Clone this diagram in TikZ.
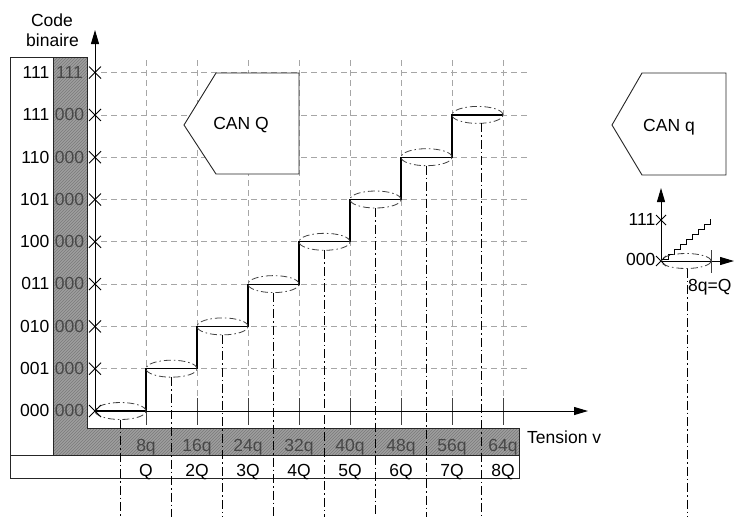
\documentclass[tikz,border=0pt]{standalone}
\usepackage{fontspec}
\setmainfont{Liberation Sans}
\usetikzlibrary{arrows.meta,patterns}
\begin{document}
\begin{tikzpicture}[x=1pt,y=-1pt,
  txt/.style={font=\fontsize{17.5}{20}\selectfont, inner sep=0pt},
  gtxt/.style={txt, text=black!72},
  gridl/.style={draw=black!35, line width=0.8pt, dash pattern=on 6pt off 4pt},
  ddl/.style={draw=black, line width=0.9pt, dash pattern=on 9pt off 3pt on 1.5pt off 3pt},
  ell/.style={draw=black!75, line width=0.8pt, dash pattern=on 7pt off 3pt on 1.5pt off 3pt},
  axisl/.style={draw=black, line width=1pt, -{Triangle[length=14pt,width=8pt]}},
  stepl/.style={draw=black, line width=1.2pt},
  boxl/.style={draw=black!85, line width=0.9pt},
  tickl/.style={draw=black!75, line width=0.9pt},
  crossl/.style={draw=black, line width=0.9pt},
  hatchfill/.style={fill=black!38},
  hatchpat/.style={pattern=north east lines, pattern color=black!52}
]
\useasboundingbox (0,0) rectangle (734,517);

% white boxes
\draw[boxl, fill=white] (10,57) rectangle (53,455);
\draw[boxl, fill=white] (10,455) rectangle (519,478);
% gray hatched L
\fill[hatchfill] (53,57) -- (87,57) -- (87,428) -- (519,428) -- (519,455) -- (53,455) -- cycle;
\fill[hatchpat] (53,57) -- (87,57) -- (87,428) -- (519,428) -- (519,455) -- (53,455) -- cycle;
\draw[boxl] (53,57) -- (87,57) -- (87,428) -- (519,428) -- (519,455) -- (53,455) -- cycle;

% grid
\foreach \k in {1,...,8} {
  \pgfmathsetmacro\yy{411-42.3*\k}
  \draw[gridl] (101,\yy) -- (528,\yy);
}
\foreach \j in {1,...,8} {
  \pgfmathsetmacro\xx{95+51*\j}
  \draw[gridl] (\xx,60) -- (\xx,398);
  \draw[tickl] (\xx,398) -- (\xx,425);
}

% pentagon CAN Q
\draw[boxl, fill=white] (184,125) -- (216,73) -- (299,73) -- (299,174) -- (216,174) -- cycle;
\node[txt, anchor=base] (canQ) at (241,129) {CAN Q};

% axes
\draw[axisl] (95,411) -- (95,30);
\draw[axisl] (95,411) -- (588,411);

% staircase
\draw[stepl] (95,411) \foreach \k in {0,...,6} { -- ++(51,0) -- ++(0,-42.3) } -- ++(51,0);

% ellipses and dash-dot lines
\foreach \k/\xc in {0/120.5,1/171.5,2/222.5,3/273.5,4/324.5,5/375.5,6/426.5,7/481} {
  \pgfmathsetmacro\yy{411-42.3*\k}
  \pgfmathsetmacro\xe{120.5+51*\k}
  \draw[ell] (\xe,\yy) ellipse [x radius=25.5pt, y radius=8.5pt];
  \draw[ddl] (\xc,{\yy+8.5}) -- (\xc,517);
}

% crosses and labels on y axis
\foreach \k/\a/\b in {8/111/111,7/111/000,6/110/000,5/101/000,4/100/000,3/011/000,2/010/000,1/001/000,0/000/000} {
  \pgfmathsetmacro\yy{411-42.3*\k}
  \draw[crossl] (89,{\yy-6}) -- (101,{\yy+6}) (89,{\yy+6}) -- (101,{\yy-6});
  \node[txt, anchor=base east] (w\k) at (49.5,{\yy+5.8}) {\a};
  \node[gtxt, anchor=base] (g\k) at (69.5,{\yy+5.8}) {\b};
}

% bar labels
\foreach \j/\q/\Q in {1/8q/Q,2/16q/2Q,3/24q/3Q,4/32q/4Q,5/40q/5Q,6/48q/6Q,7/56q/7Q,8/64q/8Q} {
  \pgfmathsetmacro\xx{95+51*\j}
  \node[gtxt, anchor=base] (bq\j) at (\xx,451) {\q};
  \node[txt, anchor=base] (bQ\j) at (\xx,476) {\Q};
}

\node[txt, anchor=base] (code) at (52,26.5) {Code};
\node[txt, anchor=base] (bin) at (52.5,46.7) {binaire};
\node[txt, anchor=base west] (tension) at (527,443) {Tension v};

% CAN q
\draw[boxl, fill=white] (612,125) -- (642,73) -- (726,73) -- (726,175) -- (642,175) -- cycle;
\node[txt, anchor=base] (canq) at (669,131) {CAN q};

% small plot
\draw[axisl] (661,261) -- (661,188);
\draw[axisl] (661,261) -- (734,261);
\draw[crossl] (656,215) -- (666,225) (656,225) -- (666,215);
\draw[crossl] (656,256) -- (666,266) (656,266) -- (666,256);
\node[txt, anchor=base east] (s111) at (655.5,225.7) {111};
\node[txt, anchor=base east] (s000) at (655.5,265) {000};
\draw[line width=0.8pt] (662,259) \foreach \i in {1,...,8} { -- ++(6,0) -- ++(0,-5) };
\draw[tickl] (711,250) -- (711,273);
\draw[ell] (686,261) ellipse [x radius=25pt, y radius=7.5pt];
\draw[ddl] (687,268.5) -- (687,517);
\node[txt, anchor=base west] (sq) at (688,291.5) {8q=Q};
\end{tikzpicture}
\end{document}
